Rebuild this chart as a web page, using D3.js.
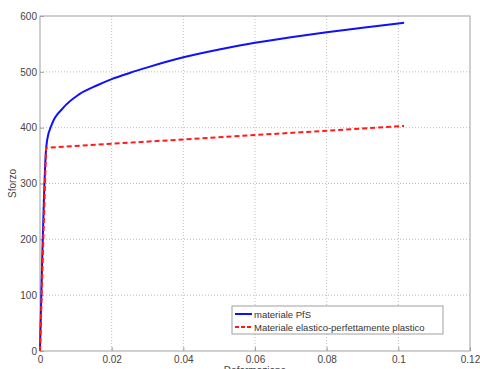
<!DOCTYPE html>
<html>
<head>
<meta charset="UTF-8">
<style>
  body { margin: 0; background: #fff; }
  svg { font-family: "Liberation Sans", Arial, sans-serif; }
  .grid line { stroke: #bdbdbd; stroke-dasharray: 1,2; }
  .tick text { fill: #444; font-size: 10px; }
</style>
</head>
<body>
<svg id="chart" width="480" height="369"></svg>
<script src="https://d3js.org/d3.v7.min.js"></script>
<script>
// deformazione / sforzo
const pfsStrain = [0, 0.0017, 0.002, 0.0033, 0.0064, 0.011, 0.016, 0.02, 0.025, 0.03, 0.04, 0.05, 0.06, 0.07, 0.08, 0.09, 0.1016];
const pfsStress = [0, 362, 378, 406, 435, 460, 476, 487, 498, 508, 526, 540, 552, 562, 571, 579, 588];
const epStrain = [0, 0.0017, 0.1016];
const epStress = [0, 364, 403];
const xTicks = [0, 0.02, 0.04, 0.06, 0.08, 0.1, 0.12];
const yTicks = [0, 100, 200, 300, 400, 500, 600];
const seriesNames = ["materiale PfS", "Materiale elastico-perfettamente plastico"];

const mLeft = 40, mRight = 470, mTop = 16, mBottom = 351;
const svg = d3.select("#chart");

let x = d3.scaleLinear().domain([0, 0.12]).range([mLeft, mRight]);
let y = d3.scaleLinear().domain([0, 600]).range([mBottom, mTop]);

// grid
svg.append("g").attr("class", "grid")
  .selectAll("line").data(xTicks.slice(1, -1)).enter().append("line")
  .attr("x1", d => x(d)).attr("x2", d => x(d)).attr("y1", mTop).attr("y2", mBottom);
svg.append("g").attr("class", "grid")
  .selectAll("line").data(yTicks.slice(1, -1)).enter().append("line")
  .attr("y1", d => y(d)).attr("y2", d => y(d)).attr("x1", mLeft).attr("x2", mRight);

// frame
svg.append("rect").attr("x", mLeft).attr("y", mTop)
  .attr("width", mRight - mLeft).attr("height", mBottom - mTop)
  .attr("fill", "none").attr("stroke", "#a0a0a0");

let fmt = d => d === 0 ? "0" : String(d);
let xAxis = svg.append("g").attr("transform", "translate(0," + mBottom + ")")
  .call(d3.axisBottom(x).tickValues(xTicks).tickFormat(fmt).tickSizeInner(-4).tickSizeOuter(0).tickPadding(5));
let yAxis = svg.append("g").attr("transform", "translate(" + mLeft + ",0)")
  .call(d3.axisLeft(y).tickValues(yTicks).tickSizeInner(-4).tickSizeOuter(0).tickPadding(3));
[xAxis, yAxis].forEach(a => {
  a.select(".domain").remove();
  a.selectAll(".tick line").attr("stroke", "#a0a0a0");
});

// curves
let line = d3.line().x(d => x(d[0])).y(d => y(d[1]));
svg.append("path").datum(pfsStrain.map((v, i) => [v, pfsStress[i]]))
  .attr("d", line.curve(d3.curveMonotoneX)).attr("fill", "none").attr("stroke", "#1010ff").attr("stroke-width", 2);
svg.append("path").datum(epStrain.map((v, i) => [v, epStress[i]]))
  .attr("d", line.curve(d3.curveLinear)).attr("fill", "none").attr("stroke", "#ff1a1a").attr("stroke-width", 2)
  .attr("stroke-dasharray", "5,3");

// labels
svg.append("text").attr("x", (mLeft + mRight) / 2).attr("y", 374)
  .attr("text-anchor", "middle").attr("font-size", 10).attr("fill", "#444").text("Deformazione");
svg.append("text").attr("transform", "translate(16," + y(300) + ") rotate(-90)")
  .attr("text-anchor", "middle").attr("font-size", 10).attr("fill", "#444").text("Sforzo");

// legend
let lg = svg.append("g").attr("transform", "translate(232,306)");
lg.append("rect").attr("width", 211).attr("height", 28)
  .attr("fill", "#fff").attr("stroke", "#a0a0a0");
const legColors = ["#1010ff", "#ff1a1a"];
seriesNames.forEach((name, i) => {
  let row = lg.append("g").attr("transform", "translate(0," + (8 + i * 13) + ")");
  row.append("line").attr("x1", 3).attr("x2", 20).attr("y1", 0).attr("y2", 0)
    .attr("stroke", legColors[i]).attr("stroke-width", 2)
    .attr("stroke-dasharray", i === 1 ? "4,2" : null);
  row.append("text").attr("x", 22).attr("y", 3.5).attr("font-size", 9.5)
    .attr("fill", "#333").text(name);
});
</script>
</body>
</html>
